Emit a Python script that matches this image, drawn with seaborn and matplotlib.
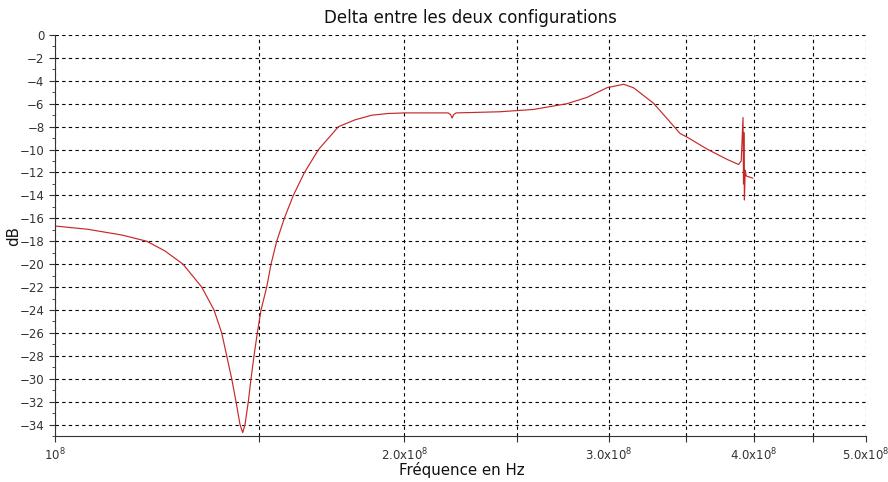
import numpy as np
import pandas as pd
import matplotlib
matplotlib.use("Agg")
import matplotlib.pyplot as plt
import seaborn as sns
from matplotlib.ticker import FixedLocator, MultipleLocator, NullLocator

# Frequency (in units of 1e8 Hz) and delta (dB)
freq_e8 = [1.0000, 1.0677, 1.1422, 1.1997, 1.2438, 1.2892, 1.3379, 1.3710, 1.3921,
           1.4060, 1.4200, 1.4322, 1.4436, 1.4514, 1.4580, 1.4676, 1.4755, 1.4843,
           1.4941, 1.5051, 1.5222, 1.5353, 1.5527, 1.5763, 1.6047, 1.6406, 1.6869,
           1.7552, 1.8143, 1.8755, 1.9372, 2.0032, 2.1054, 2.1818, 2.1926, 2.1992,
           2.2057, 2.2167, 2.4184, 2.5836, 2.7612, 2.8731, 2.9907, 3.0910, 3.1517,
           3.2792, 3.3762, 3.4575, 3.5038, 3.6464, 3.7940, 3.8823, 3.9032, 3.9172,
           3.9211, 3.9234, 3.9281, 3.9343, 3.9421, 3.9942]
delta_db = [-16.67, -16.96, -17.46, -18.0, -18.85, -20.0, -22.0, -24.0, -26.0,
            -28.0, -30.0, -32.0, -34.0, -34.7, -34.0, -32.0, -30.0, -28.0,
            -26.0, -24.0, -22.0, -20.0, -18.0, -16.0, -14.0, -12.0, -10.0,
            -8.0, -7.4, -7.0, -6.85, -6.8, -6.8, -6.8, -6.95, -7.25,
            -6.95, -6.8, -6.7, -6.5, -6.0, -5.45, -4.6, -4.3, -4.6,
            -5.95, -7.4, -8.6, -8.9, -9.95, -10.85, -11.3, -11.0, -7.2,
            -13.0, -8.5, -14.4, -11.8, -12.3, -12.5]

xtick_vals = [1.0, 1.5, 2.0, 2.5, 3.0, 3.5, 4.0, 4.5, 5.0]
xtick_labels = [r"$10^{8}$", "", r"$2.0\mathrm{x}10^{8}$", "", r"$3.0\mathrm{x}10^{8}$", "",
                r"$4.0\mathrm{x}10^{8}$", "", r"$5.0\mathrm{x}10^{8}$"]

df = pd.DataFrame({"freq": np.array(freq_e8) * 1e8, "db": delta_db})

sns.set_style("ticks")
plt.rcParams["font.family"] = ["DejaVu Sans"]
plt.rcParams["mathtext.default"] = "regular"

W, H = 888, 482
fig = plt.figure(figsize=(W / 100, H / 100), dpi=100)
x0, x1, y0, y1 = 55, 866, 35, 436
ax = fig.add_axes([x0 / W, 1 - y1 / H, (x1 - x0) / W, (y1 - y0) / H])

sns.lineplot(data=df, x="freq", y="db", ax=ax, color="#c62828", linewidth=0.85)

ax.set_xscale("log")
ax.set_xlim(1e8, 5e8)
ax.set_ylim(-35, 0)
ax.xaxis.set_major_locator(FixedLocator([v * 1e8 for v in xtick_vals]))
ax.set_xticklabels(xtick_labels)
ax.xaxis.set_minor_locator(NullLocator())
ax.yaxis.set_major_locator(MultipleLocator(2))
ax.yaxis.set_minor_locator(MultipleLocator(1))

ax.grid(True, which="major", color="black", linestyle=(0, (3, 3)), linewidth=0.8)
for s in ["top", "right"]:
    ax.spines[s].set_visible(False)
ax.spines["left"].set_color("#333333")
ax.spines["bottom"].set_color("#333333")
ax.tick_params(axis="both", which="major", labelsize=8.5, colors="#333333", length=4, width=0.8)
ax.tick_params(axis="y", which="minor", length=2, width=0.6, colors="#333333")
ax.tick_params(axis="x", pad=4)

fig.text(470 / W, 1 - 18 / H, "Delta entre les deux configurations",
         ha="center", va="center", fontsize=12, color="#111111")
ax.set_xlabel("Fréquence en Hz", fontsize=10.8, color="#111111")
ax.xaxis.set_label_coords((462 - x0) / (x1 - x0), -(470 - y1) / (y1 - y0))
ax.xaxis.label.set_va("center")
ax.set_ylabel("dB", fontsize=10.8, color="#111111")
ax.yaxis.set_label_coords(-(x0 - 14) / (x1 - x0), 0.5)
ax.yaxis.label.set_va("center")

fig.savefig("out.png", dpi=100)
